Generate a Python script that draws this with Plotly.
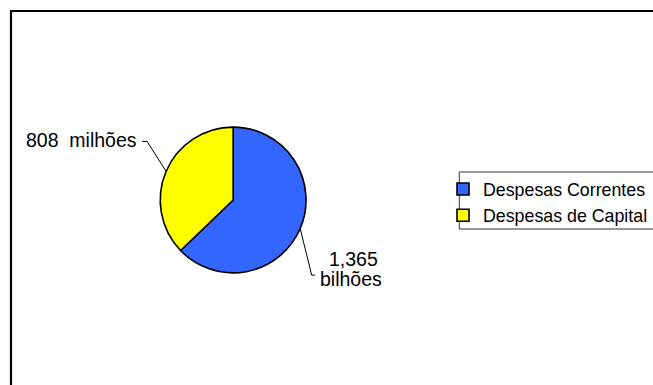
import math
import plotly.graph_objects as go

labels = ["Despesas Correntes", "Despesas de Capital"]
values = [1365, 808]
colors = ["#3366FF", "#FFFF00"]
value_texts = [["1,365", "bilhões"], ["808\u00a0 milhões"]]

W, H = 653, 385
# pie geometry in pixels
cx, cy, r = 233.5, 200.0, 73.0

def px(x):
    return x / W

def py(y):
    return 1 - y / H

fig = go.Figure()
fig.add_trace(go.Pie(
    labels=labels,
    values=values,
    marker=dict(colors=colors, line=dict(color="black", width=1.6)),
    textinfo="none",
    sort=False,
    direction="clockwise",
    rotation=0,
    hoverinfo="label+value",
    domain=dict(x=[px(cx - r), px(cx + r)], y=[py(cy + r), py(cy - r)]),
))

# slice midpoints (clockwise from 12 o'clock)
total = sum(values)
cum = 0.0
tips = []
for v in values:
    mid = (cum + v / 2) / total * 2 * math.pi
    tips.append((cx + r * math.sin(mid), cy - r * math.cos(mid)))
    cum += v

shapes = []
# outer chart frame
shapes.append(dict(type="rect", xref="paper", yref="paper",
                   x0=px(11), x1=1.05, y0=-0.05, y1=py(11),
                   line=dict(color="black", width=2.2), fillcolor="rgba(0,0,0,0)"))
# legend frame
shapes.append(dict(type="rect", xref="paper", yref="paper",
                   x0=px(460), x1=1.05, y0=py(229), y1=py(172),
                   line=dict(color="#333333", width=1), fillcolor="rgba(0,0,0,0)"))

def path(pts):
    return "M " + " L ".join(f"{px(x)},{py(y)}" for x, y in pts)

# leader lines
tb = tips[0]
shapes.append(dict(type="path", xref="paper", yref="paper",
                   path=path([tb, (tb[0] + 11.5, tb[1] + 46.5), (tb[0] + 15, tb[1] + 46.5)]),
                   line=dict(color="black", width=1)))
ty = tips[1]
shapes.append(dict(type="path", xref="paper", yref="paper",
                   path=path([ty, (ty[0] - 19, ty[1] - 30), (ty[0] - 24, ty[1] - 30)]),
                   line=dict(color="black", width=1)))

font = dict(family="Liberation Sans, Arial", size=19.5, color="black")
annotations = [
    dict(text=value_texts[0][0], x=px(tb[0] + 53), y=py(tb[1] + 30), xref="paper", yref="paper",
         showarrow=False, xanchor="center", yanchor="middle", font=font),
    dict(text=value_texts[0][1], x=px(tb[0] + 51), y=py(tb[1] + 50), xref="paper", yref="paper",
         showarrow=False, xanchor="center", yanchor="middle", font=font),
    dict(text=value_texts[1][0], x=px(ty[0] - 27), y=py(ty[1] - 31), xref="paper", yref="paper",
         showarrow=False, xanchor="right", yanchor="middle", font=font),
]

fig.update_layout(
    width=W, height=H,
    margin=dict(l=0, r=0, t=0, b=0),
    paper_bgcolor="white", plot_bgcolor="white",
    showlegend=True,
    legend=dict(x=px(444), y=py(171), xanchor="left", yanchor="top",
                font=dict(family="Liberation Sans, Arial", size=17.8, color="black"),
                bgcolor="rgba(0,0,0,0)", borderwidth=0, traceorder="normal"),
    shapes=shapes,
    annotations=annotations,
)

fig.write_html("out.html")
